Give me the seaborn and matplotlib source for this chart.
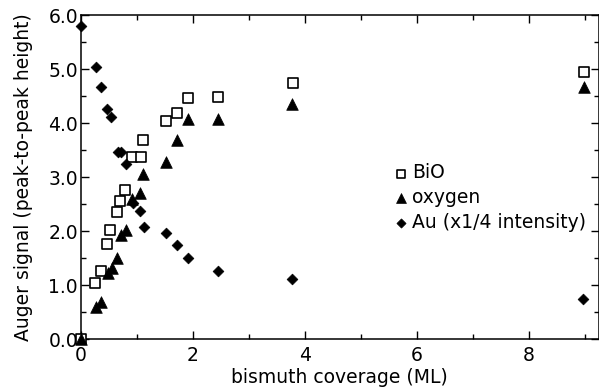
import matplotlib
matplotlib.use("Agg")
import matplotlib.pyplot as plt
import seaborn as sns
import pandas as pd
from matplotlib.ticker import MultipleLocator, FormatStrFormatter

# Bi coverage (ML) and Auger peak-to-peak signals
bio_x = [0.0, 0.26, 0.36, 0.47, 0.53, 0.65, 0.71, 0.79, 0.91, 1.07, 1.12, 1.53, 1.72, 1.91, 2.45, 3.79, 8.99]
bio_y = [0.0, 1.05, 1.27, 1.77, 2.02, 2.36, 2.57, 2.76, 3.37, 3.38, 3.69, 4.04, 4.18, 4.47, 4.49, 4.75, 4.95]

oxy_x = [0.0, 0.27, 0.36, 0.49, 0.55, 0.65, 0.72, 0.80, 0.91, 1.06, 1.12, 1.52, 1.72, 1.91, 2.45, 3.78, 8.99]
oxy_y = [0.0, 0.60, 0.70, 1.23, 1.33, 1.51, 1.93, 2.02, 2.60, 2.70, 3.06, 3.29, 3.69, 4.08, 4.08, 4.35, 4.66]

au_x = [0.0, 0.27, 0.37, 0.47, 0.54, 0.66, 0.72, 0.80, 0.93, 1.06, 1.13, 1.52, 1.72, 1.91, 2.45, 3.78, 8.97]
au_y = [5.80, 5.04, 4.66, 4.27, 4.12, 3.47, 3.46, 3.25, 2.53, 2.38, 2.08, 1.97, 1.75, 1.51, 1.27, 1.11, 0.74]

labels = ["BiO", "oxygen", "Au (x1/4 intensity)"]
x_ticks = [0, 2, 4, 6, 8]
y_ticks = [0.0, 1.0, 2.0, 3.0, 4.0, 5.0, 6.0]

FS = 13.5

sns.set_theme(style="ticks")
plt.rcParams["font.family"] = ["DejaVu Sans"]
plt.rcParams["font.size"] = FS
plt.rcParams["text.color"] = "black"
plt.rcParams["axes.labelcolor"] = "black"
plt.rcParams["xtick.color"] = "black"
plt.rcParams["ytick.color"] = "black"

fig = plt.figure(figsize=(5.99, 3.90), dpi=100)
ax = fig.add_axes([0.1347, 0.1295, 0.8653, 0.8320])

bio = pd.DataFrame({"x": bio_x, "y": bio_y})
oxy = pd.DataFrame({"x": oxy_x, "y": oxy_y})
au = pd.DataFrame({"x": au_x, "y": au_y})

sns.scatterplot(data=bio, x="x", y="y", marker="s", s=55, facecolor="white",
                edgecolor="black", linewidth=1.2, label=labels[0], ax=ax,
                clip_on=False, zorder=3)
sns.scatterplot(data=oxy, x="x", y="y", marker="^", s=70, color="black",
                edgecolor="black", linewidth=0.5, label=labels[1], ax=ax,
                clip_on=False, zorder=4)
sns.scatterplot(data=au, x="x", y="y", marker="D", s=30, color="black",
                edgecolor="black", linewidth=0.5, label=labels[2], ax=ax,
                clip_on=False, zorder=4)

ax.set_xlim(0, 9.25)
ax.set_ylim(0, 6.0)
ax.set_xticks(x_ticks)
ax.set_yticks(y_ticks)
ax.xaxis.set_minor_locator(MultipleLocator(1))
ax.yaxis.set_minor_locator(MultipleLocator(0.5))
ax.yaxis.set_major_formatter(FormatStrFormatter("%.1f"))
ax.tick_params(which="both", direction="in", top=True, right=True,
               labelsize=FS, colors="black")
ax.tick_params(axis="y", pad=2)
ax.tick_params(axis="x", pad=5)
ax.tick_params(which="major", length=6, width=1)
ax.tick_params(which="minor", length=3.5, width=1)
for sp in ax.spines.values():
    sp.set_linewidth(1.1)
    sp.set_color("black")

ax.set_xlabel("bismuth coverage (ML)", fontsize=FS, labelpad=2)
ax.set_ylabel("Auger signal (peak-to-peak height)", fontsize=FS, labelpad=11)

leg = ax.legend(loc="upper left", bbox_to_anchor=(0.642, 0.605),
                bbox_transform=fig.transFigure, frameon=False,
                handletextpad=0.15, handlelength=0.8, labelspacing=0.3,
                borderpad=0, fontsize=FS, markerscale=0.85)
for t in leg.get_texts():
    t.set_color("black")

fig.savefig("out.png", dpi=100)
